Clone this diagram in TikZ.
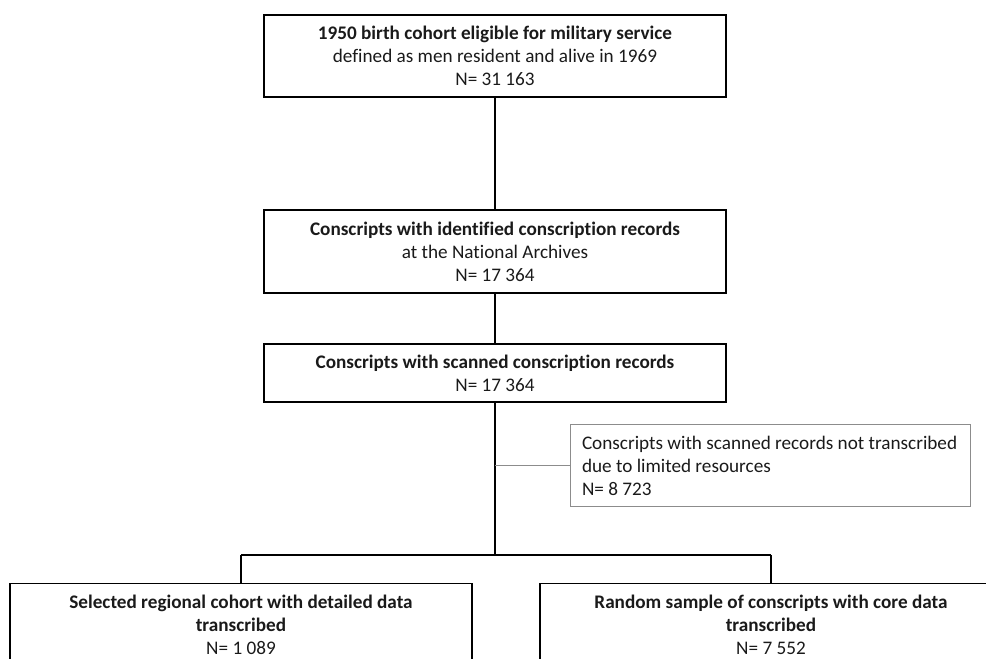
\documentclass[tikz,border=0pt]{standalone}
\usepackage{fontspec}
\setmainfont{Carlito}[Ligatures=NoCommon]
\definecolor{txt}{HTML}{1A1A1A}
\definecolor{sidegray}{HTML}{8C8C8C}
\begin{document}
\begin{tikzpicture}[x=1pt,y=1pt,
  mainbox/.style={draw=black,line width=1.1pt,rectangle,inner sep=0pt,align=center,
    text=txt,font=\fontsize{19.2}{23}\selectfont},
  sidebox/.style={draw=sidegray,line width=1pt,rectangle,inner sep=0pt,
    text=txt,font=\fontsize{19.2}{23}\selectfont},
  link/.style={draw=black,line width=1.1pt},
  sidelink/.style={draw=sidegray,line width=1pt}]
\useasboundingbox (0,0) rectangle (986,659);
\clip (0,0) rectangle (986,659);
\node[mainbox,minimum width=462,minimum height=82] (b1) at (495,603)
  {\textbf{1950 birth cohort eligible for military service}\\defined as men resident and alive in 1969\\N= 31 163};
\node[mainbox,minimum width=462,minimum height=83] (b2) at (495,407.5)
  {\textbf{Conscripts with identified conscription records}\\at the National Archives\\N= 17 364};
\node[mainbox,minimum width=462,minimum height=58] (b3) at (495,286)
  {\textbf{Conscripts with scanned conscription records}\\N= 17 364};
\node[sidebox,minimum width=400,minimum height=82] (side) at (770,193)
  {\begin{minipage}{388pt}\fontsize{19.2}{23}\selectfont\raggedright\leftskip=6pt Conscripts with scanned records not transcribed\\due to limited resources\\N= 8 723\end{minipage}};
\node[mainbox,minimum width=462,minimum height=83,anchor=north] (bl) at (241,76)
  {\textbf{Selected regional cohort with detailed data}\\\textbf{transcribed}\\N= 1 089};
\node[mainbox,minimum width=462,minimum height=83,anchor=north] (br) at (771,76)
  {\textbf{Random sample of conscripts with core data}\\\textbf{transcribed}\\N= 7 552};
\coordinate (split) at (495,104);
\coordinate (tap) at (495,193);
\coordinate (lb) at (241,104);
\coordinate (rb) at (771,104);
\draw[link] (b1.south) -- (b2.north);
\draw[link] (b2.south) -- (b3.north);
\draw[link] (b3.south) -- (split);
\draw[sidelink] (tap) -- (side.west);
\draw[link] (lb) -- (rb);
\draw[link] (lb) -- (bl.north);
\draw[link] (rb) -- (br.north);
\end{tikzpicture}
\end{document}
